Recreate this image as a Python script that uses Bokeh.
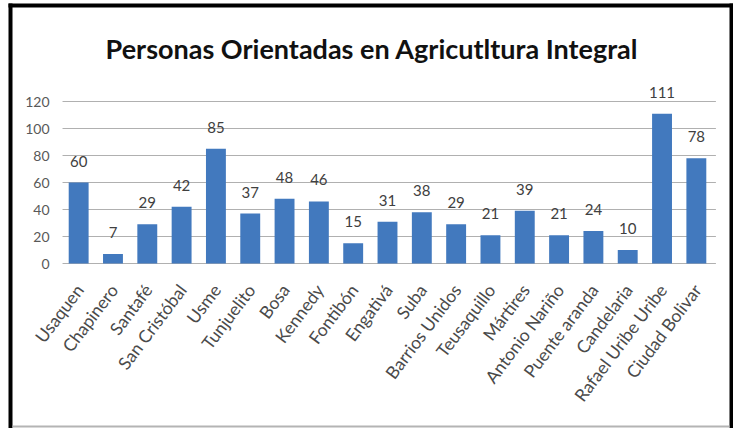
from bokeh.plotting import figure
from bokeh.models import ColumnDataSource, Range1d, LabelSet, Label
from bokeh.core.properties import value
from bokeh.embed import file_html
from bokeh.resources import INLINE
import math

localidades = ["Usaquen", "Chapinero", "Santafé", "San Cristóbal", "Usme", "Tunjuelito",
               "Bosa", "Kennedy", "Fontibón", "Engativá", "Suba", "Barrios Unidos",
               "Teusaquillo", "Mártires", "Antonio Nariño", "Puente aranda", "Candelaria",
               "Rafael Uribe Uribe", "Ciudad Bolivar"]
personas = [60, 7, 29, 42, 85, 37, 48, 46, 15, 31, 38, 29, 21, 39, 21, 24, 10, 111, 78]
y_ticks = [0, 20, 40, 60, 80, 100, 120]
titulo = "Personas Orientadas en Agricutltura Integral"

FONT_NAME = "Lato"
FONT = value(FONT_NAME)
n = len(localidades)
idx = list(range(n))

W, H = 733, 428
X0_PX, UNIT_PX = 78.16, 34.316     # pixel position of first category, width of a category
Y0_PX, PX_PER = 263.0, 1.35        # pixel position of value 0, pixels per unit


def px2x(px):
    return (px - X0_PX) / UNIT_PX


def py2y(py):
    return (Y0_PX - py) / PX_PER


src = ColumnDataSource(dict(x=idx, name=localidades, y=personas,
                            t=[str(v) for v in personas], base=[0] * n))
tick_src = ColumnDataSource(dict(y=y_ticks, t=[str(v) for v in y_ticks],
                                 x0=[-0.47] * len(y_ticks), x1=[n - 1 + 0.57] * len(y_ticks)))

# frame spans the whole figure so that title and rotated labels are not clipped
p = figure(x_range=Range1d(px2x(0), px2x(W)),
           y_range=Range1d(py2y(H), py2y(0)),
           width=W, height=H, output_backend="svg", toolbar_location=None,
           min_border_left=0, min_border_right=0, min_border_top=0, min_border_bottom=0)
p.outline_line_color = None
p.background_fill_color = "white"
p.border_fill_color = "white"
p.axis.visible = False
p.grid.visible = False

# picture frame (black left/top/right, grey bottom)
p.quad(left=[px2x(8), px2x(8), px2x(729)], right=[px2x(12), px2x(733), px2x(733)],
       top=[py2y(3), py2y(3), py2y(3)], bottom=[py2y(428), py2y(7), py2y(428)],
       fill_color="black", line_color=None)
p.quad(left=[px2x(12)], right=[px2x(729)], top=[py2y(425)], bottom=[py2y(427)],
       fill_color="#b4b4b4", line_color=None)

# gridlines
p.segment(x0="x0", x1="x1", y0="y", y1="y", source=tick_src, line_color="#b0b0b0", line_width=1)

p.vbar(x="x", top="y", width=0.58, source=src, fill_color="#4279be", line_color=None)

labels = LabelSet(x="x", y="y", text="t", source=src, y_offset=16,
                  text_align="center", text_baseline="bottom",
                  text_font=FONT, text_font_size="15px", text_color="#404040")
p.add_layout(labels)

xlabels = LabelSet(x="x", y="base", text="name", source=src, x_offset=1, y_offset=-23,
                   angle=math.radians(53), text_align="right", text_baseline="middle",
                   text_font=FONT, text_font_size="17.5px", text_color="#4a4a4a")
p.add_layout(xlabels)

ylabels = LabelSet(x="x0", y="y", text="t", source=tick_src, x_offset=-13,
                   text_align="right", text_baseline="middle",
                   text_font=FONT, text_font_size="14px", text_color="#595959")
p.add_layout(ylabels)

title = Label(x=8.548, y=159.3, text=titulo, text_align="center", text_baseline="alphabetic",
              text_font=FONT_NAME, text_font_size="27px", text_font_style="bold", text_color="#111111")
p.add_layout(title)

open("out.html", "w").write(file_html(p, INLINE))
